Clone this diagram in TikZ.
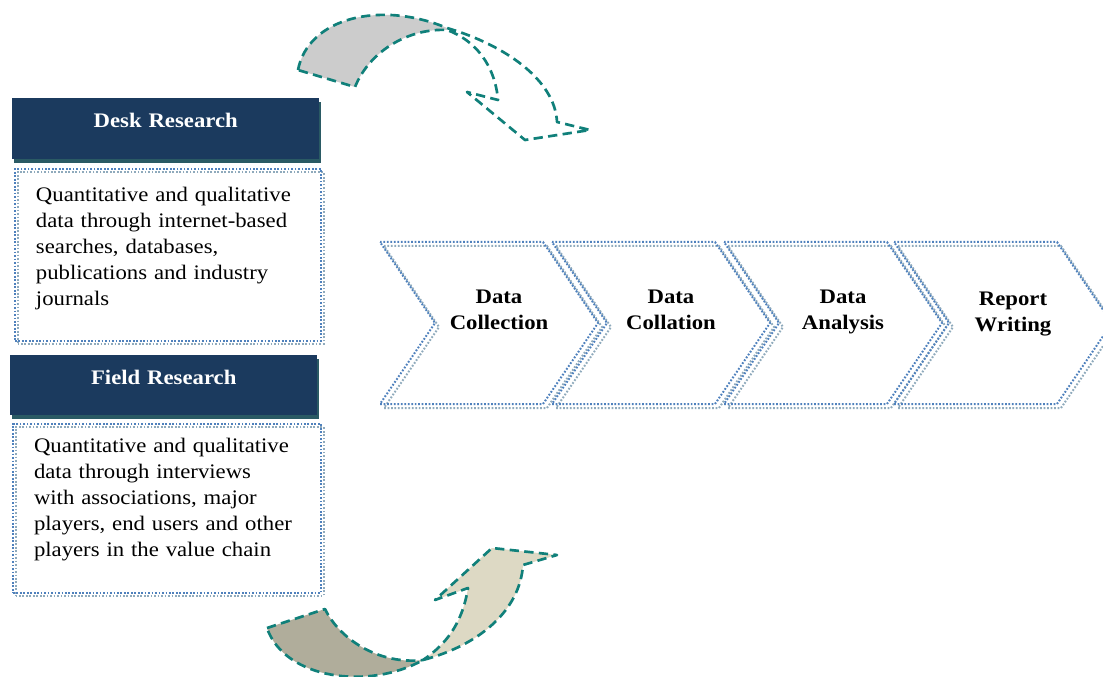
\documentclass[tikz,border=0pt]{standalone}
\usepackage{fontspec}
\setmainfont{Liberation Serif}[FakeStretch=1.1]
\usepackage{tikz}
\usepackage{xcolor}
\usetikzlibrary{shadows}
\definecolor{headnavy}{RGB}{27,58,94}
\definecolor{headshade}{RGB}{42,90,100}
\definecolor{dotblue}{RGB}{79,129,189}
\definecolor{dotgrey}{RGB}{143,170,188}
\definecolor{curlteal}{RGB}{16,128,122}
\definecolor{curlgrey}{RGB}{204,204,204}
\definecolor{curldark}{RGB}{176,173,155}
\definecolor{curllight}{RGB}{221,217,196}
\newcommand\boxfont{\fontsize{15.5}{19.5}\selectfont}
\tikzset{
    head-box/.style = {fill=headnavy, text=white, font=\boxfont\bfseries, rectangle, anchor=north west, inner sep=0pt, align=center,
        drop shadow={shadow xshift=1.5pt, shadow yshift=-3pt, fill=headshade, opacity=1}},
    text-box/.style = {draw=dotblue, line width=1.5pt, dash pattern=on 1.3pt off 1.3pt, rectangle, anchor=north west, inner xsep=15.75pt, inner ysep=0pt, align=left, font=\boxfont,
        general shadow={draw=dotgrey, line width=1.5pt, dash pattern=on 1.3pt off 1.3pt, shadow xshift=1.9pt, shadow yshift=-2.25pt}},
    stage-line/.style = {draw=dotblue, line width=1.5pt, dash pattern=on 1.3pt off 1.3pt,
        general shadow={draw=dotgrey, line width=1.5pt, dash pattern=on 1.3pt off 1.3pt, shadow xshift=3pt, shadow yshift=-3pt}},
    stage-label/.style = {font=\boxfont\bfseries, align=center},
    curl-line/.style = {draw=curlteal, line width=2pt, dash pattern=on 7pt off 4pt, line join=round},
}

\begin{document}
\begin{tikzpicture}[x=0.75pt, y=-0.75pt]
\useasboundingbox[fill=white] (0,0) rectangle (1103,677);

% research boxes
\node[head-box, text width=230.25pt, text height=22.3pt, text depth=23.45pt] (desk-head) at (12,98) {Desk Research};
\node[text-box, text width=198pt, text height=24.5pt, text depth=104.5pt] (desk-text) at (14,168) {Quantitative and qualitative\\ data through internet-based\\ searches, databases,\\ publications and industry\\ journals};
\node[head-box, text width=230.25pt, text height=22pt, text depth=23pt] (field-head) at (10,355) {Field Research};
\node[text-box, text width=199.5pt, text height=21.5pt, text depth=105.25pt] (field-text) at (12,423) {Quantitative and qualitative\\ data through interviews\\ with associations, major\\ players, end users and other\\ players in the value chain};

% process chevrons
\foreach \xx/\yy/\nm/\txt in {380/310/collect/{Data\\Collection}, 552/310/collate/{Data\\Collation}, 724/312/analyse/{Data\\Analysis}, 894/314/report/{Report\\Writing}} {
    \draw[stage-line] (\xx,242) -- ++(163,0) -- ++(55,81) -- ++(-55,81) -- ++(-163,0) -- ++(55,-81) -- cycle;
    \node[stage-label] (\nm) at (\xx+119,\yy) {\txt};
}

% curled arrow, top
\fill[curlgrey] (298,70) .. controls (308,18) and (380,0) .. (447,28) -- (447,30)
    .. controls (410,28) and (370,50) .. (355,87) -- cycle;
\draw[curl-line] (298,70) .. controls (308,18) and (380,0) .. (447,28)
    .. controls (505,45) and (555,80) .. (557,122) -- (590,130) -- (525,140) -- (467,92) -- (498,100)
    .. controls (495,65) and (475,40) .. (447,30)
    .. controls (410,28) and (370,50) .. (355,87) -- cycle;

% curled arrow, bottom
\fill[curldark] (267,628) -- (325,609) .. controls (340,640) and (380,665) .. (423,660)
    .. controls (370,690) and (285,680) .. (267,628);
\fill[curllight] (423,660) .. controls (445,645) and (462,625) .. (468,588) -- (435,600) -- (492,548) -- (557,555) -- (523,565)
    .. controls (520,610) and (480,645) .. (423,660);
\draw[curl-line] (267,628) -- (325,609) .. controls (340,640) and (380,665) .. (423,660)
    .. controls (445,645) and (462,625) .. (468,588) -- (435,600) -- (492,548) -- (557,555) -- (523,565)
    .. controls (520,610) and (480,645) .. (423,660)
    .. controls (370,690) and (285,680) .. (267,628);
\end{tikzpicture}
\end{document}
